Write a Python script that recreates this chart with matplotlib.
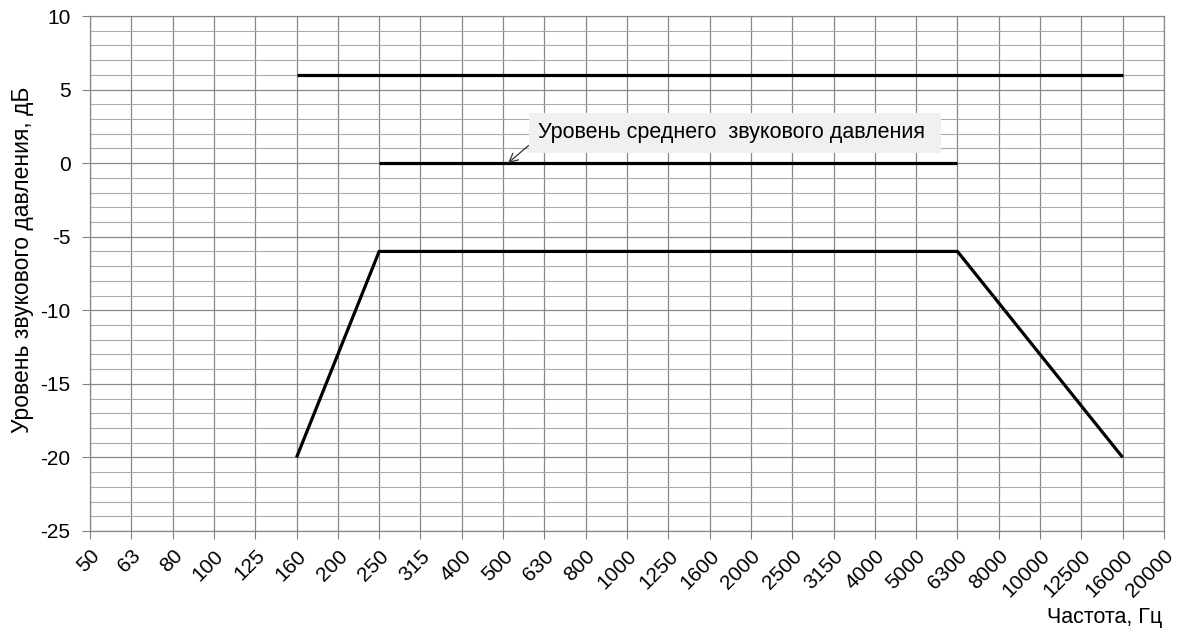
import matplotlib
matplotlib.use("Agg")
import matplotlib.pyplot as plt
import numpy as np
from matplotlib.ticker import MultipleLocator

plt.rcParams['font.family'] = ['Liberation Sans', 'DejaVu Sans']
plt.rcParams['axes.unicode_minus'] = False

freqs = ["50", "63", "80", "100", "125", "160", "200", "250", "315", "400", "500",
         "630", "800", "1000", "1250", "1600", "2000", "2500", "3150", "4000", "5000",
         "6300", "8000", "10000", "12500", "16000", "20000"]

upper_freqs = ["160", "16000"]
upper_vals = [6, 6]
mid_freqs = ["250", "6300"]
mid_vals = [0, 0]
lower_freqs = ["160", "250", "6300", "16000"]
lower_vals = [-20, -6, -6, -20]

annot_text = "Уровень среднего  звукового давления"

fig = plt.figure(figsize=(11.94, 6.42), dpi=100)
ax = fig.add_axes([90/1194, 1-531/642, (1164-90)/1194, (531-16)/642])

idx = {f: i for i, f in enumerate(freqs)}
for fl, vl in [(upper_freqs, upper_vals), (mid_freqs, mid_vals), (lower_freqs, lower_vals)]:
    ax.plot([idx[f] for f in fl], vl, color='black', lw=2.3, solid_capstyle='butt', zorder=3)

ax.set_xlim(0, len(freqs) - 1)
ax.set_ylim(-25, 10)
ax.set_xticks(range(len(freqs)))
ax.set_xticklabels(freqs, rotation=45, ha='right', va='top', rotation_mode='anchor', fontsize=15)
ax.yaxis.set_major_locator(MultipleLocator(5))
ax.yaxis.set_minor_locator(MultipleLocator(1))
ax.tick_params(axis='y', which='major', labelsize=15, length=6, color='#808080', direction='out', pad=8)
ax.tick_params(axis='y', which='minor', length=0)
ax.tick_params(axis='x', length=6, color='#808080', direction='out', pad=5)

ax.grid(True, which='major', axis='both', color='#888888', lw=0.9)
ax.grid(True, which='minor', axis='y', color='#aaaaaa', lw=0.8)
ax.set_axisbelow(True)
for s in ax.spines.values():
    s.set_color('#888888')
    s.set_linewidth(0.9)

ax.set_ylabel("Уровень звукового давления, дБ", fontsize=16.5, va='center')
ax.yaxis.set_label_coords(-0.063, 0.526)
ax.set_xlabel("Частота, Гц", fontsize=15.5, ha='right', va='center')
ax.xaxis.set_label_coords(0.998, -0.167)

ax.annotate(annot_text + " ", xy=(10.12, 0), xytext=(10.85, 2.05),
            fontsize=15.5, ha='left', va='center',
            bbox=dict(boxstyle='square,pad=0.45', fc='#f0f0f0', ec='none'),
            arrowprops=dict(arrowstyle='->', color='#333333', lw=0.9, shrinkA=0, shrinkB=0,
                            relpos=(0, 0.3)),
            zorder=4)

fig.savefig("out.png", dpi=100)
